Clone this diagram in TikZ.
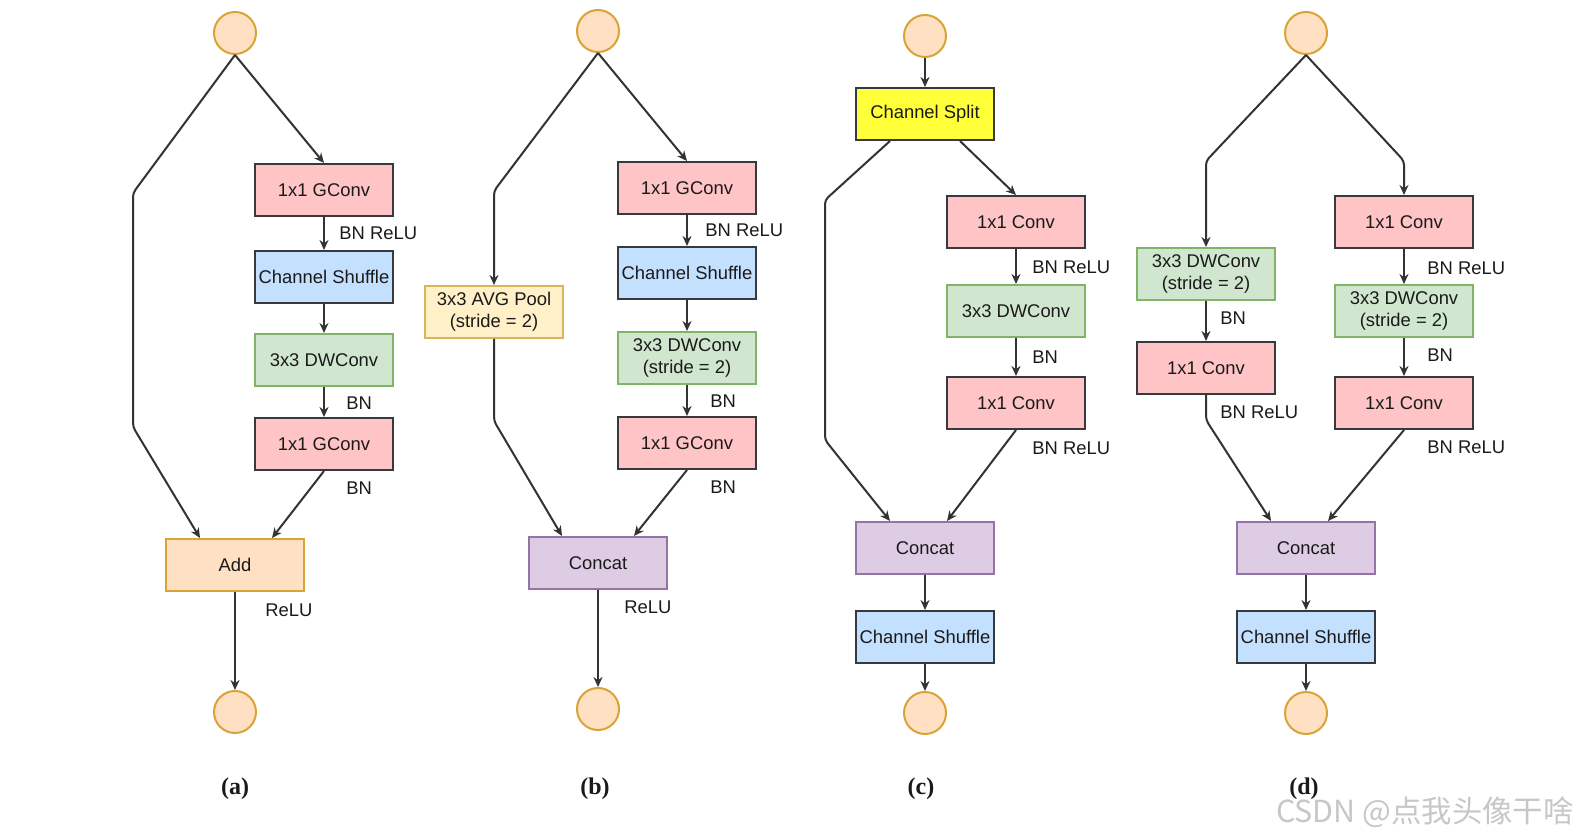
\documentclass[tikz,border=0pt]{standalone}
\usepackage{fontspec}
\setmainfont{Liberation Sans}
\newfontfamily\capfont{Liberation Serif}
\newfontfamily\cjk{Noto Sans CJK SC}
\usetikzlibrary{arrows.meta,calc}
\definecolor{txt}{HTML}{1A1A1A}
\definecolor{linec}{HTML}{333333}
\definecolor{darkb}{HTML}{36393D}
\definecolor{pinkf}{HTML}{FFC4C6}
\definecolor{bluef}{HTML}{C4E0FF}
\definecolor{greenf}{HTML}{D0E6CF}
\definecolor{greenb}{HTML}{82B366}
\definecolor{orangef}{HTML}{FFE0C2}
\definecolor{orangeb}{HTML}{D9A336}
\definecolor{poolf}{HTML}{FFF0C8}
\definecolor{poolb}{HTML}{D6B656}
\definecolor{purpf}{HTML}{DDCCE3}
\definecolor{purpb}{HTML}{9673A6}
\definecolor{splitf}{HTML}{FFFF3A}
\begin{document}
\begin{tikzpicture}[x=0.5pt,y=-0.5pt,
  box/.style={draw, line width=1pt, minimum width=69pt, minimum height=26pt,
    inner sep=0pt, align=center, font=\fontsize{9.2}{11}\selectfont, text=txt},
  pinkbox/.style={box, fill=pinkf, draw=darkb},
  bluebox/.style={box, fill=bluef, draw=darkb},
  greenbox/.style={box, fill=greenf, draw=greenb},
  orangebox/.style={box, fill=orangef, draw=orangeb},
  poolbox/.style={box, fill=poolf, draw=poolb},
  purpbox/.style={box, fill=purpf, draw=purpb},
  splitbox/.style={box, fill=splitf, draw=darkb},
  circ/.style={circle, draw=orangeb, fill=orangef, line width=1pt, minimum size=21pt, inner sep=0pt},
  conn/.style={draw=linec, line width=1pt, rounded corners=2pt, -{Stealth[length=5pt,width=4.5pt]}},
  lab/.style={anchor=west, inner sep=0pt, font=\fontsize{9.2}{11}\selectfont, text=txt},
  captxt/.style={inner sep=0pt, font=\capfont\bfseries\fontsize{12}{14}\selectfont, text=txt}
]
\useasboundingbox (0,0) rectangle (1578,838);
\fill[white] (0,0) rectangle (1578,838);

% ---------------- (a)
\node[circ] (aIn) at (235,33) {};
\node[pinkbox] (aG1) at (324,190) {1x1 GConv};
\node[bluebox] (aSh) at (324,277) {Channel Shuffle};
\node[greenbox] (aDW) at (324,360) {3x3 DWConv};
\node[pinkbox] (aG2) at (324,444) {1x1 GConv};
\node[orangebox] (aAdd) at (235,565) {Add};
\node[circ] (aOut) at (235,712) {};
\coordinate (aL1) at (133,193);
\coordinate (aL2) at (133,427);
\draw[conn] (aIn.south) -- (aG1.north);
\draw[conn] (aIn.south) -- (aL1) -- (aL2) -- ($(aAdd.north)+(-35,0)$);
\draw[conn] (aG1) -- (aSh);
\draw[conn] (aSh) -- (aDW);
\draw[conn] (aDW) -- (aG2);
\draw[conn] (aG2.south) -- ($(aAdd.north)+(37,0)$);
\draw[conn] (aAdd) -- (aOut);
\node[lab] (aT1) at (339,233) {BN ReLU};
\node[lab] (aT2) at (346,403) {BN};
\node[lab] (aT3) at (346,488) {BN};
\node[lab] (aT4) at (265,610) {ReLU};
\node[captxt] (aCap) at (235,789) {(a)};

% ---------------- (b)
\node[circ] (bIn) at (598,31) {};
\node[pinkbox] (bG1) at (687,188) {1x1 GConv};
\node[bluebox] (bSh) at (687,273) {Channel Shuffle};
\node[greenbox] (bDW) at (687,358) {3x3 DWConv\\(stride = 2)};
\node[pinkbox] (bG2) at (687,443) {1x1 GConv};
\node[poolbox] (bPool) at (494,312) {3x3 AVG Pool\\(stride = 2)};
\node[purpbox] (bCat) at (598,563) {Concat};
\node[circ] (bOut) at (598,709) {};
\coordinate (bL1) at (494,191);
\coordinate (bL2) at (494,421);
\draw[conn] (bIn.south) -- (bG1.north);
\draw[conn] (bIn.south) -- (bL1) -- (bPool.north);
\draw[conn] (bPool.south) -- (bL2) -- ($(bCat.north)+(-36,0)$);
\draw[conn] (bG1) -- (bSh);
\draw[conn] (bSh) -- (bDW);
\draw[conn] (bDW) -- (bG2);
\draw[conn] (bG2.south) -- ($(bCat.north)+(36,0)$);
\draw[conn] (bCat) -- (bOut);
\node[lab] (bT1) at (705,230) {BN ReLU};
\node[lab] (bT2) at (710,401) {BN};
\node[lab] (bT3) at (710,487) {BN};
\node[lab] (bT4) at (624,607) {ReLU};
\node[captxt] (bCap) at (595,789) {(b)};

% ---------------- (c)
\node[circ] (cIn) at (925,36) {};
\node[splitbox] (cSp) at (925,114) {Channel Split};
\node[pinkbox] (cC1) at (1016,222) {1x1 Conv};
\node[greenbox] (cDW) at (1016,311) {3x3 DWConv};
\node[pinkbox] (cC2) at (1016,403) {1x1 Conv};
\node[purpbox] (cCat) at (925,548) {Concat};
\node[bluebox] (cSh) at (925,637) {Channel Shuffle};
\node[circ] (cOut) at (925,713) {};
\coordinate (cL1) at (825,200);
\coordinate (cL2) at (825,440);
\draw[conn] (cIn) -- (cSp);
\draw[conn] ($(cSp.south)+(-35,0)$) -- (cL1) -- (cL2) -- ($(cCat.north)+(-35,0)$);
\draw[conn] ($(cSp.south)+(35,0)$) -- (cC1.north);
\draw[conn] (cC1) -- (cDW);
\draw[conn] (cDW) -- (cC2);
\draw[conn] (cC2.south) -- ($(cCat.north)+(22,0)$);
\draw[conn] (cCat) -- (cSh);
\draw[conn] (cSh) -- (cOut);
\node[lab] (cT1) at (1032,267) {BN ReLU};
\node[lab] (cT2) at (1032,357) {BN};
\node[lab] (cT3) at (1032,448) {BN ReLU};
\node[captxt] (cCap) at (921,789) {(c)};

% ---------------- (d)
\node[circ] (dIn) at (1306,33) {};
\node[greenbox] (dLDW) at (1206,274) {3x3 DWConv\\(stride = 2)};
\node[pinkbox] (dLC) at (1206,368) {1x1 Conv};
\node[pinkbox] (dRC1) at (1404,222) {1x1 Conv};
\node[greenbox] (dRDW) at (1404,311) {3x3 DWConv\\(stride = 2)};
\node[pinkbox] (dRC2) at (1404,403) {1x1 Conv};
\node[purpbox] (dCat) at (1306,548) {Concat};
\node[bluebox] (dSh) at (1306,637) {Channel Shuffle};
\node[circ] (dOut) at (1306,713) {};
\coordinate (dL1) at (1206,161);
\coordinate (dR1) at (1404,161);
\coordinate (dL2) at (1206,420);
\draw[conn] (dIn.south) -- (dL1) -- (dLDW.north);
\draw[conn] (dIn.south) -- (dR1) -- (dRC1.north);
\draw[conn] (dLDW) -- (dLC);
\draw[conn] (dLC.south) -- (dL2) -- ($(dCat.north)+(-35,0)$);
\draw[conn] (dRC1) -- (dRDW);
\draw[conn] (dRDW) -- (dRC2);
\draw[conn] (dRC2.south) -- ($(dCat.north)+(22,0)$);
\draw[conn] (dCat) -- (dSh);
\draw[conn] (dSh) -- (dOut);
\node[lab] (dT1) at (1220,318) {BN};
\node[lab] (dT2) at (1220,412) {BN ReLU};
\node[lab] (dT3) at (1427,268) {BN ReLU};
\node[lab] (dT4) at (1427,355) {BN};
\node[lab] (dT5) at (1427,447) {BN ReLU};
\node[captxt] (dCap) at (1304,789) {(d)};

% watermark
\node[inner sep=0pt, anchor=east, text=black!22, font=\cjk\fontsize{15.2}{17}\selectfont] (wm) at (1574,812) {CSDN @点我头像干啥};
\end{tikzpicture}
\end{document}
